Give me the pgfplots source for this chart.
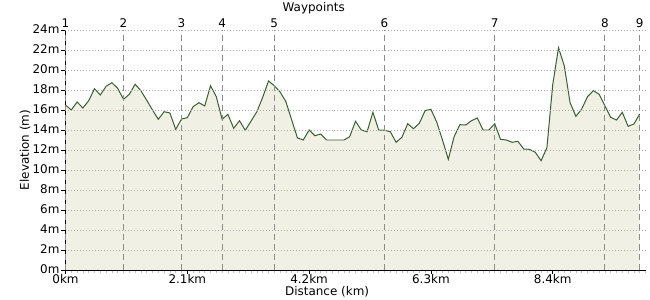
\documentclass[border=0pt]{standalone}
\usepackage{pgfplots}
\pgfplotsset{compat=1.18}
\usepackage{pgfplotstable}
\usepackage{fontspec}
\setmainfont{DejaVu Sans}
\definecolor{fillc}{HTML}{F0F0E5}
\definecolor{linec}{HTML}{3A5F30}
\definecolor{gridc}{HTML}{ADADAD}
\definecolor{wpc}{HTML}{8C8C8C}
\newcommand\lf{\fontsize{12}{14}\selectfont}
\pgfplotstableread{
x y
0.0 16.5
0.1 16.0
0.2 16.8
0.3 16.2
0.4 16.93
0.5 18.13
0.6 17.5
0.7 18.37
0.8 18.73
0.9 18.17
1.0 17.07
1.1 17.57
1.2 18.57
1.3 17.93
1.4 16.98
1.5 16.0
1.6 15.07
1.7 15.83
1.8 15.7
1.9 14.07
2.0 15.1
2.1 15.23
2.2 16.33
2.3 16.73
2.4 16.4
2.5 18.43
2.6 17.33
2.7 15.07
2.8 15.57
2.9 14.17
3.0 14.93
3.1 13.97
3.2 14.9
3.3 15.83
3.4 17.27
3.5 18.9
3.6 18.43
3.7 17.8
3.8 16.83
3.9 15.0
4.0 13.2
4.1 13.0
4.2 14.0
4.3 13.43
4.4 13.6
4.5 13.0
4.6 13.0
4.7 13.0
4.8 13.0
4.9 13.33
5.0 14.87
5.1 14.0
5.2 13.83
5.3 15.77
5.4 14.0
5.5 13.97
5.6 13.83
5.7 12.77
5.8 13.27
5.9 14.63
6.0 14.13
6.1 14.67
6.2 15.93
6.3 16.07
6.4 14.8
6.5 13.0
6.6 11.07
6.7 13.33
6.8 14.53
6.9 14.5
7.0 14.93
7.1 15.2
7.2 14.0
7.3 14.0
7.4 14.63
7.5 13.07
7.6 13.0
7.7 12.77
7.8 12.87
7.9 12.1
8.0 12.07
8.1 11.77
8.2 10.93
8.3 12.23
8.4 18.5
8.5 22.23
8.6 20.4
8.7 16.73
8.8 15.37
8.9 16.1
9.0 17.33
9.1 17.93
9.2 17.57
9.3 16.43
9.4 15.27
9.5 15.0
9.6 15.77
9.7 14.37
9.8 14.6
9.9 15.6
}\profile
\begin{document}
\begin{tikzpicture}
\path[use as bounding box] (-65.5bp,-30bp) rectangle (584.5bp,270bp);
\begin{axis}[
  at={(0,0)}, anchor=south west,
  scale only axis, width=580bp, height=240bp,
  xmin=0, xmax=10, ymin=0, ymax=24,
  clip=false,
  axis on top,
  axis lines*=left,
  axis line style={black, line width=1pt, -},
  xtick={0,2.1,4.2,6.3,8.4},
  xticklabels={0km,2.1km,4.2km,6.3km,8.4km},
  minor xtick={0,0.1,...,10},
  ytick={0,2,...,24},
  yticklabels={0m,2m,4m,6m,8m,10m,12m,14m,16m,18m,20m,22m,24m},
  ymajorgrids,
  major grid style={gridc, line width=0.8pt, dash pattern=on 1pt off 2pt},
  tick align=outside,
  major tick length=4bp, minor tick length=3bp,
  major tick style={black, line width=0.8pt},
  minor tick style={gray!50, line width=0.8pt},
  every tick label/.append style={font=\lf, inner ysep=0pt},
  xticklabel style={anchor=base, yshift=-9bp},
  yticklabel style={anchor=east, xshift=1.5bp, yshift=1bp},
  xlabel={Distance (km)},
  ylabel={Elevation (m)},
  x label style={font=\lf, at={(axis description cs:0.451,-0.108)}, anchor=base},
  y label style={font=\lf, at={(axis description cs:-0.0698,0.5)}, anchor=center, rotate=0},
  extra x ticks={0,1.0,2.0,2.7,3.6,5.5,7.4,9.3,9.9},
  extra x tick labels={},
  extra x tick style={grid=major, major tick length=0pt,
    major grid style={wpc, line width=1.1pt, dash pattern=on 6pt off 4pt}},
]
\addplot[fill=fillc, draw=none] table[x=x,y=y] {\profile} \closedcycle;
\addplot[linec, line width=1pt] table[x=x,y=y] {\profile};
\node[font=\lf, anchor=base] at (axis description cs:0.428,1.079) {Waypoints};
\node[font=\lf, anchor=base] at (axis cs:0,24.3) {1};
\node[font=\lf, anchor=base] at (axis cs:1.0,24.3) {2};
\node[font=\lf, anchor=base] at (axis cs:2.0,24.3) {3};
\node[font=\lf, anchor=base] at (axis cs:2.7,24.3) {4};
\node[font=\lf, anchor=base] at (axis cs:3.6,24.3) {5};
\node[font=\lf, anchor=base] at (axis cs:5.5,24.3) {6};
\node[font=\lf, anchor=base] at (axis cs:7.4,24.3) {7};
\node[font=\lf, anchor=base] at (axis cs:9.3,24.3) {8};
\node[font=\lf, anchor=base] at (axis cs:9.9,24.3) {9};
\end{axis}
\end{tikzpicture}
\end{document}
